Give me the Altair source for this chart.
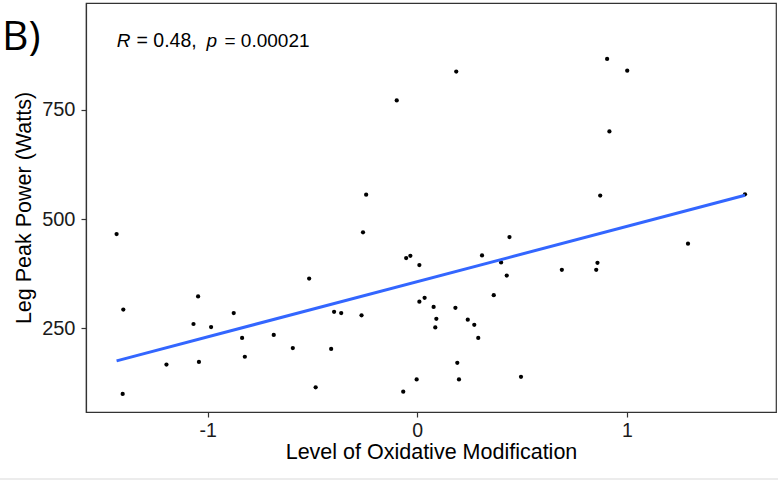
import altair as alt
import pandas as pd

# Oxidative modification score and leg peak power (W) for each participant
oxidation = [
    -0.098, 0.186, 0.906, 1.002, 0.917, 0.873, 1.564, 1.292, 0.690, 0.860,
    0.854, -0.053, -0.033, 0.010, 0.309, 0.440, 0.400, 0.427, 0.365, 0.010,
    0.035, 0.078, 0.182, 0.091, 0.086, 0.241, 0.272, 0.291, 0.191, -0.003,
    0.199, 0.495, -0.067, -0.244, -0.259, -0.516, -0.397, -0.363, -0.266, -0.685,
    -0.594, -0.411, -0.485, -1.435, -1.403, -1.406, -1.046, -1.068, -0.984, -0.876,
    -0.836, -0.823, -1.197, -1.042,
]
peak_power = [
    772, 838, 867, 840, 701, 554, 557, 444, 384, 400,
    384, 411, 416, 395, 417, 459, 401, 371, 326, 311,
    320, 299, 297, 272, 252, 270, 258, 228, 171, 133,
    133, 139, 105, 556, 470, 364, 288, 285, 280, 235,
    205, 203, 115, 466, 293, 100, 323, 260, 253, 285,
    228, 185, 167, 173,
]

x_ticks = [-1, 0, 1]
y_ticks = [250, 500, 750]
x_domain = [-1.581, 1.712]
y_domain = [58.5, 995]

df = pd.DataFrame({"oxidation": oxidation, "peak_power": peak_power})

W, H = 690, 409
FONT = "Liberation Sans"
INK = "#333333"

x_enc = alt.X(
    "oxidation:Q",
    scale=alt.Scale(domain=x_domain, nice=False, zero=False),
    axis=alt.Axis(
        values=x_ticks,
        labelExpr="(datum.value < 0 ? '-' : '') + abs(datum.value)",
        title="Level of Oxidative Modification",
        grid=False,
        tickSize=5,
        tickColor=INK,
        tickWidth=1.2,
        domainColor=INK,
        domainWidth=1.2,
        labelFont=FONT,
        labelFontSize=19.5,
        labelColor="#1a1a1a",
        labelPadding=4,
        titleFont=FONT,
        titleFontSize=21.5,
        titleFontWeight="normal",
        titleColor="black",
        titleBaseline="alphabetic",
        titleY=46,
    ),
)
y_enc = alt.Y(
    "peak_power:Q",
    scale=alt.Scale(domain=y_domain, nice=False, zero=False),
    axis=alt.Axis(
        values=y_ticks,
        title="Leg Peak Power (Watts)",
        grid=False,
        tickSize=5,
        tickColor=INK,
        tickWidth=1.2,
        domainColor=INK,
        domainWidth=1.2,
        labelFont=FONT,
        labelFontSize=20,
        labelColor="#1a1a1a",
        labelPadding=6,
        titleFont=FONT,
        titleFontSize=21.5,
        titleFontWeight="normal",
        titleColor="black",
        titleAngle=-90,
        titleAlign="center",
        titleBaseline="alphabetic",
        titleX=-55.5,
        titleY=H / 2,
    ),
)

base = alt.Chart(df)

points = base.mark_circle(size=18, color="black", opacity=1).encode(x=x_enc, y=y_enc)

fit = (
    base.transform_regression("oxidation", "peak_power", method="linear")
    .mark_line(color="#3366FF", strokeWidth=3)
    .encode(x="oxidation:Q", y="peak_power:Q")
)

one = alt.Data(values=[{}])


def label(text, x, y, size, style="normal", font=FONT):
    return alt.Chart(one).mark_text(
        text=text,
        font=font,
        fontSize=size,
        fontStyle=style,
        align="left",
        baseline="alphabetic",
        color="black",
    ).encode(x=alt.value(x), y=alt.value(y))


panel_tag = label("B)", -84, 47, 41, font="Open Sans")
stat_r = label("R", 30.7, 43.7, 19, style="italic")
stat_r_val = label("= 0.48,", 50.5, 43.7, 19.5)
stat_p = label("p", 120.5, 43.7, 19, style="italic")
stat_p_val = label("= 0.00021", 138.5, 43.7, 19)

footer = alt.Chart(one).mark_rule(color="#e6e6e6", strokeWidth=1.5).encode(
    x=alt.value(-86), x2=alt.value(W + 2), y=alt.value(476)
)

chart = (
    alt.layer(points, fit, panel_tag, stat_r, stat_r_val, stat_p, stat_p_val, footer)
    .properties(
        width=W,
        height=H,
        padding={"left": 86, "top": 3, "right": 2, "bottom": 69},
        autosize=alt.AutoSizeParams(type="none"),
        background="white",
    )
    .configure_view(stroke=INK, strokeWidth=1.2)
)

chart.save("out.html", embed_options={"renderer": "svg", "actions": False})
